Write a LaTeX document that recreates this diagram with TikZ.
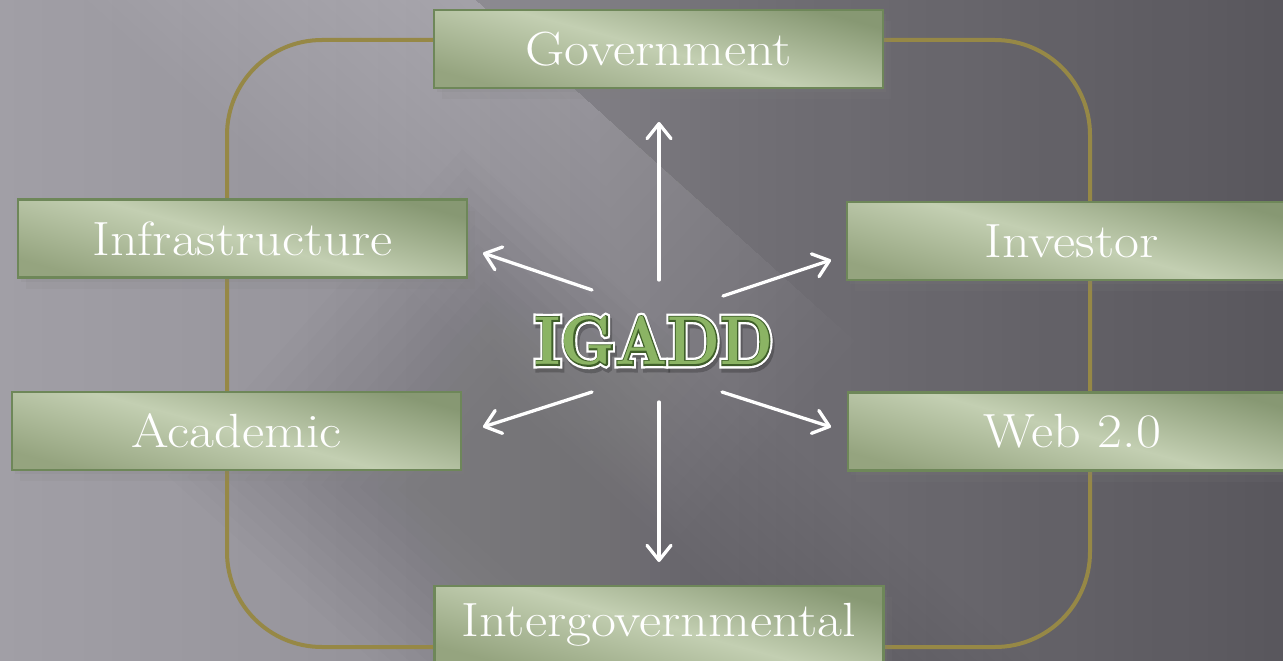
\documentclass[tikz,border=0pt]{standalone}
\usepackage{fontspec}
\newfontfamily\igfont{lmroman10-bold.otf}
\newfontfamily\igfontw{lmroman10-bold.otf}[FakeBold=11]
\newfontfamily\igfonte{lmroman10-bold.otf}[FakeBold=4]
\usetikzlibrary{arrows.meta,shadows}
\definecolor{frameline}{HTML}{968846}
\definecolor{boxborder}{HTML}{6E8759}
\definecolor{boxdark}{HTML}{879873}
\definecolor{boxlight}{HTML}{C3CFB2}
\definecolor{boxmid}{HTML}{95A47F}
\definecolor{igfill}{HTML}{8BB464}
\definecolor{igedge}{HTML}{3F5F2A}
\definecolor{gA}{HTML}{A19FA6}
\definecolor{gB}{HTML}{949299}
\definecolor{gC}{HTML}{727076}
\definecolor{gD}{HTML}{59575D}
\newcommand\boxtext[1]{\scalebox{1.13}[1]{#1}}
\begin{document}
\begin{tikzpicture}[x=1pt,y=-1pt,
  box/.style={draw=boxborder, line width=2.5pt, minimum width=449pt, minimum height=78pt,
    inner sep=0pt, text=white, font=\fontsize{48}{56}\selectfont,
    top color=boxdark, bottom color=boxmid, middle color=boxlight, shading angle=-15,
    drop shadow={opacity=0.15, shadow xshift=3pt, shadow yshift=-4pt},
    drop shadow={opacity=0.12, shadow xshift=8pt, shadow yshift=-11pt}},
  frame/.style={draw=frameline, line width=4pt, rounded corners=95pt},
  link/.style={draw=white, line width=3.3pt, line cap=round,
    -{Straight Barb[length=15pt,width=24pt,line width=3.3pt, round]}},
  igw/.style={text=white, font=\fontsize{60}{70}\igfontw},
  igs/.style={text=black, opacity=0.22, font=\fontsize{60}{70}\igfontw},
  ige/.style={text=igedge, font=\fontsize{60}{70}\igfonte},
  igf/.style={text=igfill, font=\fontsize{60}{70}\igfont}]
\useasboundingbox (0,0) rectangle (1283,661);
% background
\begin{scope}
  \clip (0,0) rectangle (1283,661);
  \foreach \xa/\xb/\ca/\cb in {0/420/gA/gB, 420/720/gB/gC, 720/1283/gC/gD}{
    \foreach \i in {0,...,29}{
      \pgfmathsetmacro\st{(\xb-\xa)/30}
      \pgfmathsetmacro\ua{\xa+\st*\i}
      \pgfmathsetmacro\ub{\xa+\st*(\i+1)+0.8}
      \pgfmathsetmacro\p{100*(\i+0.5)/30}
      \fill[color=\cb!\p!\ca] (\ua,0) rectangle (\ub,661);
    }
  }
  \begin{scope}[shift={(587,100)}, rotate=48]
    \foreach \k in {0,...,19}{
      \pgfmathsetmacro\aa{-260+13*\k}
      \pgfmathsetmacro\bb{360-18*\k}
      \fill[white, fill opacity=0.011] (\aa,-900) rectangle (0,\bb);
    }
    \foreach \k in {0,...,13}{
      \pgfmathsetmacro\la{-560+12*\k}
      \pgfmathsetmacro\lb{-120-12*\k}
      \pgfmathsetmacro\lc{-60+15*\k}
      \fill[black, fill opacity=0.009] (\la,\lc) rectangle (\lb,900);
    }
  \end{scope}
\end{scope}
% frame
\draw[frame] (227,40) rectangle (1090,647);
% boxes
\node[box] (gov) at (658.5,49) {\boxtext{Government}};
\node[box] (infra) at (242.5,238.5) {\boxtext{Infrastructure}};
\node[box] (inv) at (1071.5,241) {\boxtext{Investor}};
\node[box] (acad) at (236.5,431) {\boxtext{Academic}};
\node[box] (web) at (1072.5,431.5) {\boxtext{Web 2.0}};
\node[box] (inter) at (659,625) {\boxtext{Intergovernmental}};
% arrows
\coordinate (t1) at (659,280); \coordinate (h1) at (659,122);
\coordinate (t2) at (592,290); \coordinate (h2) at (483,253);
\coordinate (t3) at (723,296); \coordinate (h3) at (831,260);
\coordinate (t4) at (592,392); \coordinate (h4) at (483,427);
\coordinate (t5) at (722,392); \coordinate (h5) at (831,427);
\coordinate (t6) at (659,402); \coordinate (h6) at (659,562);
\foreach \k in {1,...,6}{\draw[link] (t\k) -- (h\k);}
% IGADD title
\coordinate (ig) at (654,341);
\node[igs] (igshadow) at (656,345) {\scalebox{1}[1.15]{IGADD}};
\node[igw] (igwhite) at (ig) {\scalebox{1}[1.15]{IGADD}};
\node[ige] (igedge) at (ig) {\scalebox{1}[1.15]{IGADD}};
\node[igf] (igmain) at (ig) {\scalebox{1}[1.15]{IGADD}};
\end{tikzpicture}
\end{document}
